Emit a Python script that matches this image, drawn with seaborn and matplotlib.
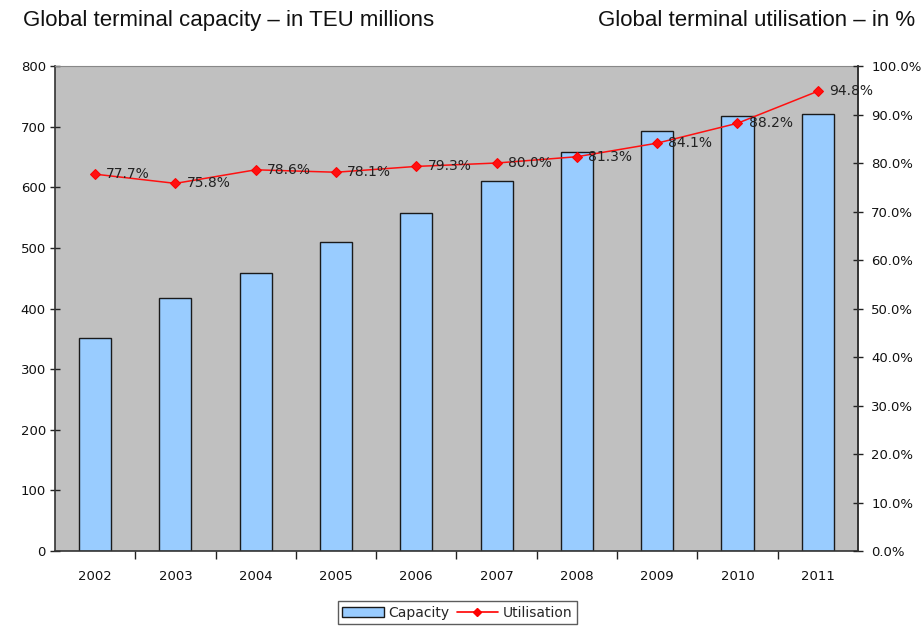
import matplotlib
matplotlib.use("Agg")
import matplotlib.pyplot as plt
import seaborn as sns
import numpy as np
import pandas as pd
from matplotlib.patches import Patch
from matplotlib.lines import Line2D

years = ["2002", "2003", "2004", "2005", "2006", "2007", "2008", "2009", "2010", "2011"]
capacity = [352, 417, 459, 510, 558, 611, 658, 692, 718, 721]
utilisation = [77.7, 75.8, 78.6, 78.1, 79.3, 80.0, 81.3, 84.1, 88.2, 94.8]
util_labels = ["77.7%", "75.8%", "78.6%", "78.1%", "79.3%", "80.0%", "81.3%", "84.1%", "88.2%", "94.8%"]
left_ticks = [0, 100, 200, 300, 400, 500, 600, 700, 800]
right_ticks = [0, 10, 20, 30, 40, 50, 60, 70, 80, 90, 100]

sns.set_theme(style="white")
plt.rcParams["font.family"] = ["DejaVu Sans"]

df = pd.DataFrame({"year": years, "capacity": capacity, "util": utilisation})

fig = plt.figure(figsize=(9.24, 6.27), dpi=100)
ax = fig.add_axes([0.0595, 0.1212, 0.869, 0.7735])
ax.set_facecolor("#C0C0C0")

sns.barplot(data=df, x="year", y="capacity", ax=ax, color="#99CCFF",
            edgecolor="#1a1a1a", linewidth=1.0, width=0.4, saturation=1)
ax.set_xlim(-0.5, len(years) - 0.5)
ax.set_ylim(0, 800)
ax.set_yticks(left_ticks)
ax.set_xlabel("")
ax.set_ylabel("")
ax.tick_params(axis="y", direction="inout", length=7, width=1, colors="#222222",
               labelsize=9.5, labelcolor="#111111", pad=3, left=True)
ax.tick_params(axis="x", length=0, labelsize=9.5, labelcolor="#111111", pad=14)
ax.set_xticks(np.arange(0.5, len(years) - 0.5), minor=True)
ax.tick_params(axis="x", which="minor", direction="out", length=6, width=1,
               colors="#222222", bottom=True)
for s in ["left", "bottom", "right"]:
    ax.spines[s].set_color("#333333")
    ax.spines[s].set_linewidth(1.2)
ax.spines["top"].set_color("#888888")
ax.spines["top"].set_linewidth(0.8)

ax2 = ax.twinx()
xpos = np.arange(len(years))
sns.lineplot(x=xpos, y=utilisation, ax=ax2, color="#FF1010", linewidth=1.1,
             marker="D", markersize=5, markeredgecolor="#FF0000")
ax2.set_ylim(0, 100)
ax2.set_yticks(right_ticks)
ax2.set_yticklabels([f"{t:.1f}%" for t in right_ticks])
ax2.tick_params(axis="y", direction="inout", length=7, width=1, colors="#222222",
                labelsize=9.5, labelcolor="#111111", pad=6, right=True)
ax2.set_ylabel("")
for s in ax2.spines.values():
    s.set_visible(False)
ax2.spines["right"].set_visible(True)
ax2.spines["right"].set_color("#333333")
ax2.spines["right"].set_linewidth(1.2)
ax2.set_xlim(-0.5, len(years) - 0.5)

for x, y, lab in zip(xpos, utilisation, util_labels):
    ax2.annotate(lab, (x, y), xytext=(8, 0), textcoords="offset points",
                 ha="left", va="center", fontsize=10, color="#222222")

handles = [Patch(facecolor="#99CCFF", edgecolor="#1a1a1a", linewidth=1.0, label="Capacity"),
           Line2D([0], [0], color="#FF0000", marker="D", markersize=4, linewidth=1.2,
                  label="Utilisation")]
leg = fig.legend(handles=handles, loc="center", bbox_to_anchor=(0.495, 0.023), ncol=2,
                 frameon=True, fancybox=False, fontsize=10, handlelength=3.0,
                 handletextpad=0.35, columnspacing=0.5, borderpad=0.3)
leg.get_frame().set_edgecolor("#333333")
leg.get_frame().set_linewidth(1.0)

fig.text(0.025, 0.968, "Global terminal capacity \u2013 in TEU millions",
         fontsize=16, family="Liberation Sans", ha="left", va="center", color="#111111")
fig.text(0.99, 0.968, "Global terminal utilisation \u2013 in %",
         fontsize=16, family="Liberation Sans", ha="right", va="center", color="#111111")

fig.savefig("out.png", dpi=100)
